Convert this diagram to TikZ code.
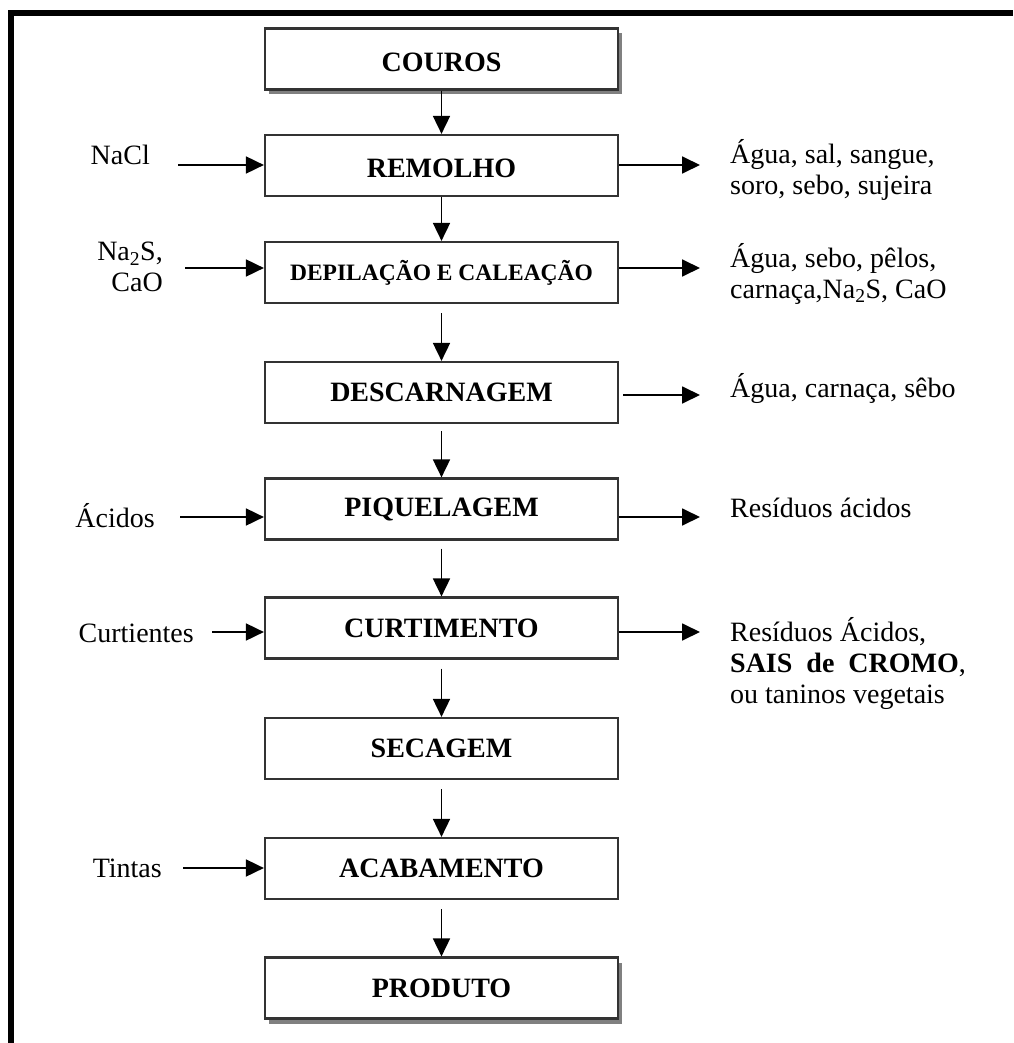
\documentclass[tikz,border=0pt]{standalone}
\usepackage{fontspec}
\setmainfont{Liberation Serif}
\usetikzlibrary{arrows.meta,shadows}
\begin{document}
\begin{tikzpicture}[x=1pt,y=-1pt,
  stage/.style={draw=black!80,line width=2.2pt,fill=white,minimum width=353pt,minimum height=61pt,inner sep=0pt,font=\fontsize{28}{31}\selectfont\bfseries},
  lowtext/.style={text height=25pt,text depth=0pt},
  shadowed/.style={drop shadow={shadow xshift=4pt,shadow yshift=-5pt,fill=black!50,opacity=1}},
  lab/.style={inner sep=0pt,font=\fontsize{28}{31}\selectfont},
  flow/.style={line width=1.8pt,-{Triangle[length=18pt,width=17pt]}}
]
\useasboundingbox (0,0) rectangle (1013,1043);
\draw[line width=6pt] (11,1043) -- (11,13) -- (1013,13);

% stages
\node[stage,shadowed,lowtext] (couros) at (441.5,59) {COUROS};
\node[stage,lowtext] (remolho) at (441.5,165.5) {REMOLHO};
\node[stage,font=\fontsize{23.5}{28}\selectfont\bfseries] (depil) at (441.5,272.5) {DEPILAÇÃO E CALEAÇÃO};
\node[stage] (desc) at (441.5,392.5) {DESCARNAGEM};
\node[stage] (piq) at (441.5,509) {PIQUELAGEM};
\node[stage] (curt) at (441.5,628) {CURTIMENTO};
\node[stage] (sec) at (441.5,748.5) {SECAGEM};
\node[stage] (acab) at (441.5,868.5) {ACABAMENTO};
\node[stage,shadowed] (prod) at (441.5,988) {PRODUTO};

% main flow
\draw[flow] (couros.south) -- (remolho.north);
\draw[flow] (remolho.south) -- (depil.north);
\draw[flow,shorten <=9pt] (depil.south) -- (desc.north);
\draw[flow,shorten <=7pt] (desc.south) -- (piq.north);
\draw[flow,shorten <=8pt] (piq.south) -- (curt.north);
\draw[flow,shorten <=9pt] (curt.south) -- (sec.north);
\draw[flow,shorten <=9pt] (sec.south) -- (acab.north);
\draw[flow,shorten <=9pt] (acab.south) -- (prod.north);

% inputs
\node[lab,anchor=east] (nacl) at (150,155) {NaCl};
\node[lab,anchor=east,align=right] (nas) at (163,267) {Na\textsubscript{2}S,\\CaO};
\node[lab,anchor=east] (acid) at (155,516) {Ácidos};
\node[lab,anchor=east] (curtin) at (194,633) {Curtientes};
\node[lab,anchor=east] (tint) at (162,868) {Tintas};

\coordinate (i1) at (178,165);
\coordinate (i2) at (185,268);
\coordinate (i3) at (180,517);
\coordinate (i4) at (212,632);
\coordinate (i5) at (183,868);
\draw[flow] (i1) -- (i1 -| remolho.west);
\draw[flow] (i2) -- (i2 -| depil.west);
\draw[flow] (i3) -- (i3 -| piq.west);
\draw[flow] (i4) -- (i4 -| curt.west);
\draw[flow] (i5) -- (i5 -| acab.west);

% outputs
\coordinate (o1) at (700,165);
\coordinate (o2) at (700,268);
\coordinate (o3) at (700,395);
\coordinate (o4) at (700,517);
\coordinate (o5) at (700,632);
\draw[flow] (o1 -| remolho.east) -- (o1);
\draw[flow] (o2 -| depil.east) -- (o2);
\draw[flow] ([xshift=4pt]o3 -| desc.east) -- (o3);
\draw[flow] (o4 -| piq.east) -- (o4);
\draw[flow] (o5 -| curt.east) -- (o5);

\node[lab,anchor=west,align=left] (r1) at (730,170) {Água, sal, sangue,\\soro, sebo, sujeira};
\node[lab,anchor=west,align=left] (r2) at (730,274) {Água, sebo, pêlos,\\carnaça,Na\textsubscript{2}S, CaO};
\node[lab,anchor=west] (r3) at (730,389) {Água, carnaça, sêbo};
\node[lab,anchor=west] (r4) at (730,508) {Resíduos ácidos};
\node[lab,anchor=west,align=left] (r5) at (730,663) {Resíduos Ácidos,\\\textbf{SAIS\ \ de\ \ CROMO},\\ou taninos vegetais};
\end{tikzpicture}
\end{document}
